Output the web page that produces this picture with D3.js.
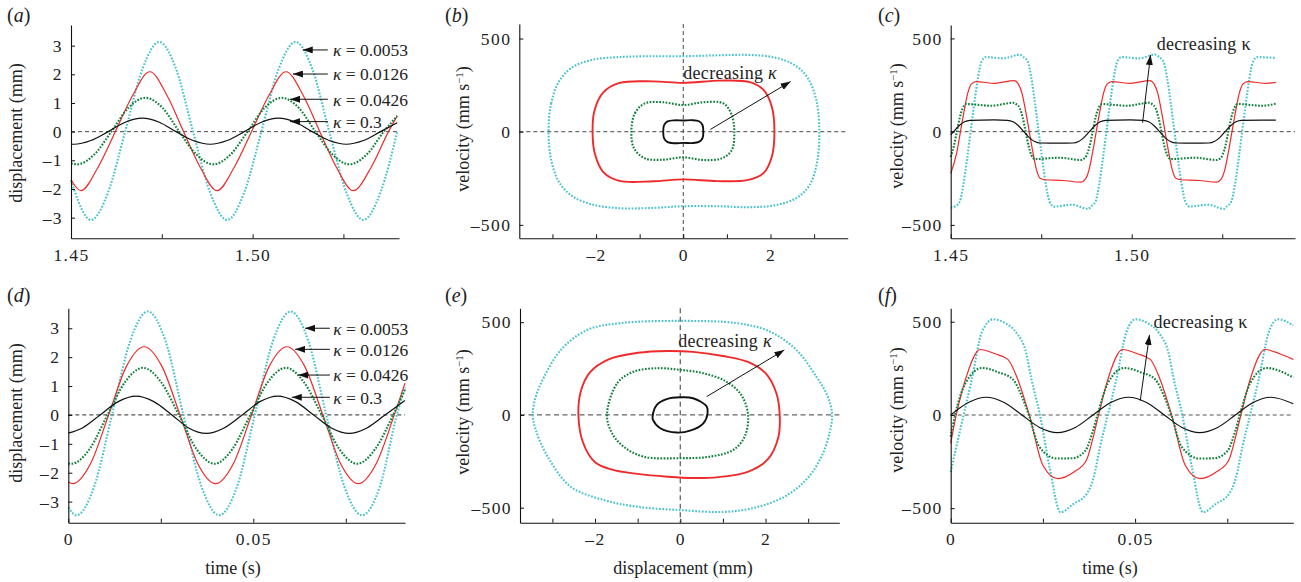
<!DOCTYPE html>
<html>
<head>
<meta charset="utf-8">
<script src="https://cdn.jsdelivr.net/npm/d3@7"></script>
<style>
  body { margin: 0; background: #fff; }
  text { font-family: "Liberation Serif", "Times New Roman", serif; fill: #222; }
</style>
</head>
<body>
<svg id="fig" width="1301" height="582"></svg>
<script>

// ---------------- data ----------------

var kappas = ["0.0053", "0.0126", "0.0426", "0.3"];

// tick values and labels
var topTimeTicks = [1.45, 1.475, 1.5, 1.525];
var topTimeLabels = ["1.45", "", "1.50", ""];
var botTimeTicks = [0, 0.025, 0.05, 0.075];
var botTimeLabels = ["0", "", "0.05", ""];
var dispTicks = [-3, -2, -1, 0, 1, 2, 3];
var dispLabels = ["\u20133", "\u20132", "\u20131", "0", "1", "2", "3"];
var velTicks = [-500, 0, 500];
var velLabels = ["\u2013500", "0", "500"];
var phaseTicks = [-3, -2, -1, 0, 1, 2, 3];
var phaseLabels = ["", "\u20132", "", "0", "", "2", ""];

// (a) displacement (mm) against time (s)
var topDisp0053 = [[1.4500,-1.70],[1.4555,-3.08],[1.4602,-2.12],[1.4649,0],[1.4696,2.16],[1.4743,3.13],[1.4790,2.16],[1.4836,0],[1.4883,-2.12],[1.4930,-3.08],[1.4977,-2.12],[1.5024,0],[1.5071,2.16],[1.5118,3.13],[1.5165,2.16],[1.5211,0],[1.5258,-2.12],[1.5305,-3.08],[1.5352,-2.12],[1.5398,0]];
var topDisp0126 = [[1.4500,-1.68],[1.4527,-2.06],[1.4574,-1.25],[1.4622,0],[1.4670,1.27],[1.4717,2.09],[1.4764,1.27],[1.4810,0],[1.4856,-1.25],[1.4902,-2.06],[1.4949,-1.25],[1.4997,0],[1.5045,1.27],[1.5092,2.09],[1.5139,1.27],[1.5185,0],[1.5231,-1.25],[1.5277,-2.06],[1.5326,-1.25],[1.5374,0],[1.5398,0.55]];
var topDisp0426 = [[1.4500,-1.11],[1.4517,-1.14],[1.4564,-0.80],[1.4611,0],[1.4658,0.83],[1.4705,1.18],[1.4752,0.83],[1.4798,0],[1.4845,-0.80],[1.4892,-1.14],[1.4939,-0.80],[1.4986,0],[1.5033,0.83],[1.5080,1.18],[1.5127,0.83],[1.5173,0],[1.5220,-0.80],[1.5267,-1.14],[1.5314,-0.80],[1.5361,0],[1.5398,0.55]];
var topDisp03 = [[1.4500,-0.43],[1.4508,-0.44],[1.4555,-0.31],[1.4602,0],[1.4649,0.33],[1.4696,0.47],[1.4743,0.33],[1.4789,0],[1.4836,-0.31],[1.4883,-0.44],[1.4930,-0.31],[1.4977,0],[1.5024,0.33],[1.5071,0.47],[1.5118,0.33],[1.5164,0],[1.5211,-0.31],[1.5258,-0.44],[1.5305,-0.31],[1.5352,0],[1.5398,0.31]];

// (c) velocity (mm/s) against time (s)
var topVel0053 = [[1.4500,-408],[1.4513,-400],[1.4525,-375],[1.4535,-285],[1.4545,-150],[1.4555,0],[1.4565,150],[1.4575,285],[1.4585,375],[1.4597,400],[1.4645,393],[1.4690,413],[1.4701,400],[1.4713,375],[1.4723,285],[1.4733,150],[1.4743,0],[1.4753,-150],[1.4763,-285],[1.4773,-375],[1.4785,-402],[1.4835,-392],[1.4880,-414],[1.4888,-400],[1.4900,-375],[1.4910,-285],[1.4920,-150],[1.4930,0],[1.4940,150],[1.4950,285],[1.4960,375],[1.4972,400],[1.5020,393],[1.5065,413],[1.5076,400],[1.5088,375],[1.5098,285],[1.5108,150],[1.5118,0],[1.5128,-150],[1.5138,-285],[1.5148,-375],[1.5160,-402],[1.5210,-392],[1.5255,-414],[1.5263,-400],[1.5275,-375],[1.5285,-285],[1.5295,-150],[1.5305,0],[1.5315,150],[1.5325,285],[1.5335,375],[1.5347,400],[1.5398,395]];
var topVel0126 = [[1.4500,-225],[1.4517,-110],[1.4527,0],[1.4537,110],[1.4547,205],[1.4557,255],[1.4570,268],[1.4622,259],[1.4675,274],[1.4687,255],[1.4697,205],[1.4707,110],[1.4717,0],[1.4727,-110],[1.4737,-205],[1.4747,-250],[1.4760,-258],[1.4812,-262],[1.4860,-271],[1.4872,-255],[1.4882,-205],[1.4892,-110],[1.4902,0],[1.4912,110],[1.4922,205],[1.4932,255],[1.4945,268],[1.4997,259],[1.5050,274],[1.5062,255],[1.5072,205],[1.5082,110],[1.5092,0],[1.5102,-110],[1.5112,-205],[1.5122,-250],[1.5135,-258],[1.5187,-262],[1.5235,-271],[1.5247,-255],[1.5257,-205],[1.5267,-110],[1.5277,0],[1.5287,110],[1.5297,205],[1.5307,255],[1.5320,268],[1.5372,259],[1.5398,264]];
var topVel0426 = [[1.4500,-135],[1.4509,-75],[1.4517,0],[1.4525,75],[1.4533,125],[1.4543,148],[1.4612,139],[1.4673,155],[1.4681,148],[1.4691,125],[1.4699,75],[1.4707,0],[1.4715,-75],[1.4723,-125],[1.4733,-147],[1.4800,-140],[1.4860,-152],[1.4866,-148],[1.4876,-125],[1.4884,-75],[1.4892,0],[1.4900,75],[1.4908,125],[1.4918,148],[1.4987,139],[1.5048,155],[1.5056,148],[1.5066,125],[1.5074,75],[1.5082,0],[1.5090,-75],[1.5098,-125],[1.5108,-147],[1.5175,-140],[1.5235,-152],[1.5241,-148],[1.5251,-125],[1.5259,-75],[1.5267,0],[1.5275,75],[1.5283,125],[1.5293,148],[1.5360,139],[1.5398,150]];
var topVel03 = [[1.4500,-17],[1.4508,0],[1.4523,32],[1.4538,53],[1.4553,61],[1.4620,63],[1.4657,61],[1.4672,53],[1.4687,32],[1.4702,0],[1.4717,-32],[1.4732,-53],[1.4747,-61],[1.4800,-62],[1.4838,-61],[1.4853,-53],[1.4868,-32],[1.4883,0],[1.4898,32],[1.4913,53],[1.4928,61],[1.4995,63],[1.5032,61],[1.5047,53],[1.5062,32],[1.5077,0],[1.5092,-32],[1.5107,-53],[1.5122,-61],[1.5175,-62],[1.5213,-61],[1.5228,-53],[1.5243,-32],[1.5258,0],[1.5273,32],[1.5288,53],[1.5303,61],[1.5398,62]];

// (b) phase loops: [displacement (mm), velocity (mm/s)]
var topLoop0053 = [[-3.09,0],[-3.03,150],[-2.85,270],[-2.55,345],[-2.10,385],[-1.50,400],[-0.80,405],[0,405],[0.80,410],[1.50,412],[2.10,398],[2.55,358],[2.85,290],[3.05,170],[3.12,0],[3.07,-160],[2.90,-285],[2.60,-355],[2.10,-395],[1.50,-405],[0.80,-400],[0,-400],[-0.80,-410],[-1.50,-410],[-2.10,-390],[-2.55,-345],[-2.85,-270],[-3.03,-150]];
var topLoop0126 = [[-2.08,0],[-2.04,110],[-1.84,210],[-1.46,262],[-0.69,270],[0,262],[0.84,274],[1.53,266],[1.84,224],[2.03,134],[2.09,0],[2.03,-134],[1.84,-222],[1.46,-260],[0.77,-265],[0,-256],[-0.69,-266],[-1.46,-264],[-1.84,-215],[-2.03,-116]];
var topLoop0426 = [[-1.19,0],[-1.11,99],[-0.88,152],[-0.46,158],[0,143],[0.46,158],[0.92,152],[1.11,90],[1.17,0],[1.11,-100],[0.88,-143],[0.46,-152],[0,-137],[-0.46,-150],[-0.88,-143],[-1.13,-89]];
var topLoop03 = [[-0.46,0],[-0.44,35],[-0.36,55],[-0.20,61],[0,60],[0.20,62],[0.36,56],[0.44,36],[0.46,0],[0.44,-35],[0.36,-55],[0.20,-61],[0,-60],[-0.20,-62],[-0.36,-56],[-0.44,-36]];

// (d) displacement (mm) against time (s)
var botDisp0053 = [[0.0000,-3.20],[0.0022,-3.47],[0.0070,-2.48],[0.0118,0],[0.0167,2.55],[0.0215,3.58],[0.0263,2.55],[0.0311,0],[0.0360,-2.48],[0.0408,-3.47],[0.0456,-2.48],[0.0504,0],[0.0553,2.55],[0.0601,3.58],[0.0649,2.55],[0.0697,0],[0.0746,-2.48],[0.0794,-3.47],[0.0842,-2.48],[0.0888,0],[0.0910,0.95]];
var botDisp0126 = [[0.0000,-2.32],[0.0012,-2.38],[0.0060,-1.69],[0.0109,0],[0.0157,1.68],[0.0205,2.36],[0.0253,1.68],[0.0302,0],[0.0350,-1.69],[0.0398,-2.38],[0.0446,-1.69],[0.0495,0],[0.0543,1.68],[0.0591,2.36],[0.0639,1.68],[0.0688,0],[0.0736,-1.69],[0.0784,-2.38],[0.0832,-1.69],[0.0881,0],[0.0910,1.10]];
var botDisp0426 = [[0.0000,-1.68],[0.0009,-1.69],[0.0057,-1.19],[0.0106,0],[0.0154,1.15],[0.0202,1.63],[0.0250,1.15],[0.0299,0],[0.0347,-1.19],[0.0395,-1.69],[0.0443,-1.19],[0.0492,0],[0.0540,1.15],[0.0588,1.63],[0.0636,1.15],[0.0685,0],[0.0733,-1.19],[0.0781,-1.69],[0.0829,-1.19],[0.0878,0],[0.0910,0.88]];
var botDisp03 = [[0.0000,-0.63],[0.0038,-0.45],[0.0086,0],[0.0135,0.46],[0.0183,0.65],[0.0231,0.46],[0.0280,0],[0.0325,-0.45],[0.0373,-0.64],[0.0421,-0.45],[0.0470,0],[0.0518,0.46],[0.0566,0.65],[0.0614,0.46],[0.0663,0],[0.0711,-0.45],[0.0759,-0.64],[0.0807,-0.45],[0.0856,0],[0.0910,0.50]];

// (f) velocity (mm/s) against time (s)
var botVel0053 = [[0.0000,-306],[0.0012,-200],[0.0035,0],[0.0057,189],[0.0084,441],[0.0115,513],[0.0150,490],[0.0178,441],[0.0205,330],[0.0218,200],[0.0242,0],[0.0268,-279],[0.0298,-522],[0.0333,-477],[0.0369,-423],[0.0388,-333],[0.0405,-171],[0.0426,0],[0.0449,189],[0.0476,441],[0.0501,513],[0.0536,490],[0.0564,441],[0.0591,330],[0.0604,200],[0.0628,0],[0.0654,-279],[0.0684,-522],[0.0719,-477],[0.0755,-423],[0.0774,-333],[0.0791,-171],[0.0812,0],[0.0835,189],[0.0862,441],[0.0887,513],[0.0929,480]];
var botVel0126 = [[0.0000,-153],[0.0015,0],[0.0040,190],[0.0080,351],[0.0120,328],[0.0155,298],[0.0180,200],[0.0213,0],[0.0250,-270],[0.0290,-342],[0.0335,-305],[0.0368,-243],[0.0385,-130],[0.0401,0],[0.0426,190],[0.0466,351],[0.0506,328],[0.0541,298],[0.0566,200],[0.0599,0],[0.0636,-270],[0.0676,-342],[0.0721,-305],[0.0754,-243],[0.0771,-130],[0.0787,0],[0.0812,190],[0.0852,351],[0.0892,328],[0.0929,298]];
var botVel0426 = [[0.0000,-117],[0.0012,0],[0.0040,170],[0.0085,252],[0.0130,228],[0.0168,192],[0.0195,90],[0.0212,0],[0.0240,-170],[0.0288,-234],[0.0330,-232],[0.0365,-192],[0.0385,-90],[0.0398,0],[0.0426,170],[0.0471,252],[0.0516,228],[0.0554,192],[0.0581,90],[0.0598,0],[0.0626,-170],[0.0674,-234],[0.0716,-232],[0.0751,-192],[0.0771,-90],[0.0784,0],[0.0812,170],[0.0857,252],[0.0902,228],[0.0929,200]];
var botVel03 = [[0.0000,0],[0.0048,67],[0.0096,95],[0.0145,67],[0.0193,0],[0.0241,-67],[0.0289,-95],[0.0338,-67],[0.0386,0],[0.0434,67],[0.0482,95],[0.0531,67],[0.0579,0],[0.0627,-67],[0.0675,-95],[0.0724,-67],[0.0772,0],[0.0820,67],[0.0868,95],[0.0929,60]];

// (e) phase loops: [displacement (mm), velocity (mm/s)]
var botLoop0053 = [[-3.46,0],[-3.39,99],[-3.19,207],[-2.80,351],[-2.18,459],[-1.40,495],[0,507],[1.32,495],[2.10,450],[2.72,351],[3.19,207],[3.46,99],[3.56,0],[3.50,-99],[3.30,-230],[2.95,-350],[2.45,-440],[1.75,-500],[1.00,-523],[0,-513],[-1.01,-495],[-1.79,-459],[-2.57,-387],[-3.11,-225],[-3.39,-81]];
var botLoop0126 = [[-2.39,0],[-2.33,130],[-2.12,230],[-1.68,300],[-1.00,335],[-0.30,345],[0.30,340],[1.00,318],[1.60,285],[2.00,225],[2.25,120],[2.33,10],[2.30,-120],[2.05,-240],[1.60,-305],[0.90,-335],[0.30,-340],[-0.30,-333],[-1.00,-318],[-1.60,-295],[-2.00,-255],[-2.28,-150]];
var botLoop0426 = [[-1.72,0],[-1.48,171],[-1.10,233],[-0.55,252],[0,243],[0.54,225],[1.08,180],[1.43,108],[1.59,0],[1.51,-117],[1.24,-189],[0.69,-225],[0,-233],[-0.86,-225],[-1.33,-171],[-1.60,-99]];
var botLoop03 = [[-0.65,-9],[-0.55,54],[-0.32,85],[0,95],[0.30,90],[0.62,45],[0.64,9],[0.54,-45],[0.23,-85],[-0.08,-95],[-0.47,-72],[-0.64,-27]];

// kappa label arrows in (a) and (d): arrow tip [t, y]; tail and text start times
var aLabelTips = [[1.5138, 2.85], [1.5111, 2.01], [1.5103, 1.13], [1.5103, 0.35]];
var aLabelTail = 1.5207, aLabelText = 1.5221;
var dLabelTips = [[0.0640, 3.00], [0.0613, 2.27], [0.0622, 1.38], [0.0604, 0.61]];
var dLabelTail = 0.0707, dLabelText = 0.0716;

// "decreasing kappa" arrows: tail, head, text anchor
var bTrend = {tail: [0.62, 12], head: [2.46, 269], text: [0, 285]};
var cTrend = {tail: [1.5030, 48], head: [1.5052, 411], text: [1.5069, 440]};
var eTrend = {tail: [0.62, 99], head: [2.44, 350], text: [-0.05, 366]};
var fTrend = {tail: [0.0514, 77], head: [0.0539, 429], text: [0.0550, 464]};

// ---------------- layout ----------------

var frames = {
    a: {l: 71,    r: 399,    t: 25,    b: 238.3, x: [1.45, 1.5403], y: [-3.72, 3.72]},
    b: {l: 519.3, r: 847.7,  t: 24,    b: 238.3, x: [-3.76, 3.77],  y: [-572, 578]},
    c: {l: 950.7, r: 1295,   t: 25,    b: 238.3, x: [1.45, 1.5451], y: [-572, 572]},
    d: {l: 68.3,  r: 405,    t: 308.3, b: 522.7, x: [0, 0.091],     y: [-3.73, 3.69]},
    e: {l: 520,   r: 839.3,  t: 308.3, b: 522.7, x: [-3.76, 3.73],  y: [-581, 575]},
    f: {l: 950.7, r: 1293.3, t: 308.3, b: 522.7, x: [0, 0.0929],    y: [-578, 572]}
};

var styles = {
    "0.0053": {colour: "#46c3cc", width: 2.1, loopWidth: 2.1, dash: "1.7,1.6"},
    "0.0126": {colour: "#ee2a2a", width: 1.2, loopWidth: 1.9, dash: null},
    "0.0426": {colour: "#10803a", width: 2.1, loopWidth: 2.1, dash: "1.7,1.5"},
    "0.3":    {colour: "#111111", width: 1.2, loopWidth: 1.9, dash: null}
};

var svg = d3.select("#fig");

svg.append("defs").append("marker")
    .attr("id", "head")
    .attr("markerUnits", "userSpaceOnUse")
    .attr("markerWidth", 10).attr("markerHeight", 7)
    .attr("refX", 10).attr("refY", 3.5)
    .attr("orient", "auto")
  .append("path")
    .attr("d", "M0,0 L10,3.5 L0,7 Z")
    .attr("fill", "#111");

function panel(key) {
    var f = frames[key];
    return {
        f: f,
        x: d3.scaleLinear().domain(f.x).range([f.l, f.r]),
        y: d3.scaleLinear().domain(f.y).range([f.b, f.t]),
        g: svg.append("g").attr("class", "panel-" + key)
    };
}

function axes(p, xTicks, xLabels, yTicks, yLabels) {
    var xAxis = d3.axisBottom(p.x)
        .tickValues(xTicks).tickSizeInner(-4).tickSizeOuter(0).tickPadding(10)
        .tickFormat(function(d, i){ return xLabels[i]; });
    var yAxis = d3.axisLeft(p.y)
        .tickValues(yTicks).tickSizeInner(-4).tickSizeOuter(0).tickPadding(8)
        .tickFormat(function(d, i){ return yLabels[i]; });

    var gx = p.g.append("g").attr("transform", "translate(0," + p.f.b + ")").call(xAxis);
    var gy = p.g.append("g").attr("transform", "translate(" + p.f.l + ",0)").call(yAxis);

    [gx, gy].forEach(function(g){
        g.attr("font-family", null).attr("font-size", null);
        g.select(".domain").attr("stroke", "#111").attr("stroke-width", 1.1);
        g.selectAll(".tick line").attr("stroke", "#111").attr("stroke-width", 1);
        g.selectAll(".tick text")
            .attr("fill", "#222")
            .style("font-size", "17.5px")
            .style("letter-spacing", "1.4px");
    });
}

function zeroLines(p, vertical, colour, dash, width) {
    p.g.append("line")
        .attr("x1", p.f.l).attr("x2", p.f.r)
        .attr("y1", p.y(0)).attr("y2", p.y(0))
        .attr("stroke", colour).attr("stroke-width", width)
        .attr("stroke-dasharray", dash);
    if (vertical) {
        p.g.append("line")
            .attr("x1", p.x(0)).attr("x2", p.x(0))
            .attr("y1", p.f.t).attr("y2", p.f.b)
            .attr("stroke", colour).attr("stroke-width", width)
            .attr("stroke-dasharray", dash);
    }
}

function series(p, list, closed) {
    var line = d3.line()
        .x(function(d){ return p.x(d[0]); })
        .y(function(d){ return p.y(d[1]); })
        .curve(closed ? d3.curveCatmullRomClosed.alpha(0.5) : d3.curveMonotoneX);

    list.forEach(function(data, i){
        var s = styles[kappas[i]];
        p.g.append("path")
            .datum(data)
            .attr("d", line)
            .attr("fill", "none")
            .attr("stroke", s.colour)
            .attr("stroke-width", closed ? s.loopWidth : s.width)
            .attr("stroke-dasharray", s.dash)
            .attr("stroke-linejoin", "round");
    });
}

function arrow(p, from, to) {
    p.g.append("line")
        .attr("x1", p.x(from[0])).attr("y1", p.y(from[1]))
        .attr("x2", p.x(to[0])).attr("y2", p.y(to[1]))
        .attr("stroke", "#111").attr("stroke-width", 1)
        .attr("marker-end", "url(#head)");
}

function kappaLabels(p, tips, tailT, textT) {
    tips.forEach(function(tip, i){
        arrow(p, [tailT, tip[1]], tip);
        var t = p.g.append("text")
            .attr("x", p.x(textT)).attr("y", p.y(tip[1]))
            .attr("dy", "0.36em")
            .style("font-size", "17.5px");
        t.append("tspan").attr("font-style", "italic").text("\u03ba");
        t.append("tspan").text(" = " + kappas[i]);
    });
}

function trend(p, spec, italic) {
    arrow(p, spec.tail, spec.head);
    var t = p.g.append("text")
        .attr("x", p.x(spec.text[0])).attr("y", p.y(spec.text[1]))
        .style("font-size", "18px")
        .style("letter-spacing", "0.3px");
    t.append("tspan").text("decreasing ");
    t.append("tspan").attr("font-style", italic ? "italic" : "normal").text("\u03ba");
}

function yTitle(x, y, kind) {
    var t = svg.append("text")
        .attr("transform", "translate(" + x + "," + y + ") rotate(-90)")
        .attr("text-anchor", "middle")
        .attr("dy", "0.35em")
        .style("font-size", "18px");
    if (kind === "disp") {
        t.text("displacement (mm)");
    } else {
        t.append("tspan").text("velocity (mm s");
        t.append("tspan").attr("baseline-shift", "super").style("font-size", "11px").text("\u22121");
        t.append("tspan").text(")");
    }
}

function xTitle(x, y, label) {
    svg.append("text")
        .attr("x", x).attr("y", y)
        .attr("text-anchor", "middle")
        .style("font-size", "18px")
        .text(label);
}

function panelLetter(x, y, letter) {
    var t = svg.append("text").attr("x", x).attr("y", y).style("font-size", "20px");
    t.append("tspan").text("(");
    t.append("tspan").attr("font-style", "italic").text(letter);
    t.append("tspan").text(")");
}

// ---------------- draw ----------------

var pa = panel("a");
zeroLines(pa, false, "#333", "4,3", 0.9);
series(pa, [topDisp0053, topDisp0126, topDisp0426, topDisp03], false);
axes(pa, topTimeTicks, topTimeLabels, dispTicks, dispLabels);
kappaLabels(pa, aLabelTips, aLabelTail, aLabelText);

var pb = panel("b");
zeroLines(pb, true, "#333", "4,3", 0.9);
series(pb, [topLoop0053, topLoop0126, topLoop0426, topLoop03], true);
axes(pb, phaseTicks, phaseLabels, velTicks, velLabels);
trend(pb, bTrend, true);

var pc = panel("c");
zeroLines(pc, false, "#333", "4,3", 0.9);
series(pc, [topVel0053, topVel0126, topVel0426, topVel03], false);
axes(pc, topTimeTicks, topTimeLabels, velTicks, velLabels);
trend(pc, cTrend, false);

var pd = panel("d");
zeroLines(pd, false, "#555", "4,3", 1.1);
series(pd, [botDisp0053, botDisp0126, botDisp0426, botDisp03], false);
axes(pd, botTimeTicks, botTimeLabels, dispTicks, dispLabels);
kappaLabels(pd, dLabelTips, dLabelTail, dLabelText);

var pe = panel("e");
zeroLines(pe, true, "#666", "5,3.5", 1.3);
series(pe, [botLoop0053, botLoop0126, botLoop0426, botLoop03], true);
axes(pe, phaseTicks, phaseLabels, velTicks, velLabels);
trend(pe, eTrend, true);

var pf = panel("f");
zeroLines(pf, false, "#555", "4,3", 1.1);
series(pf, [botVel0053, botVel0126, botVel0426, botVel03], false);
axes(pf, botTimeTicks, botTimeLabels, velTicks, velLabels);
trend(pf, fTrend, false);

yTitle(16, 133, "disp");
yTitle(463, 129, "vel");
yTitle(897, 126, "vel");
yTitle(16, 413, "disp");
yTitle(463, 412, "vel");
yTitle(897, 410, "vel");

xTitle(233, 574, "time (s)");
xTitle(683, 574, "displacement (mm)");
xTitle(1110, 574, "time (s)");

panelLetter(7, 22, "a");
panelLetter(445, 22, "b");
panelLetter(878, 22, "c");
panelLetter(7, 302, "d");
panelLetter(445, 302, "e");
panelLetter(878, 302, "f");

</script>
</body>
</html>
